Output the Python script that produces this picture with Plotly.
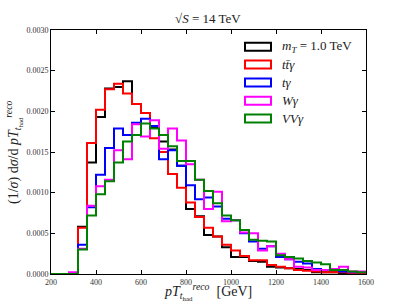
import plotly.graph_objects as go

bin_edges = list(range(200, 1601, 40))

sig_mT1 = [0, 0, 0, 0.00058, 0.00137, 0.00193, 0.00228, 0.00230, 0.00237, 0.00209, 0.00198, 0.00180,
           0.00163, 0.00153, 0.00133, 0.00080, 0.00071, 0.00048, 0.00046, 0.00033, 0.00021, 0.00021,
           0.00016, 0.00015, 0.00009, 0.00008, 0.00007, 0.00006, 0.00005, 0.00002, 0.00002, 0.00002,
           0.00001, 0.00001, 0.00001]
ttgamma = [0, 0, 0, 0.00057, 0.00161, 0.00202, 0.00227, 0.00234, 0.00222, 0.00209, 0.00198, 0.00167,
           0.00150, 0.00123, 0.00106, 0.00088, 0.00070, 0.00057, 0.00046, 0.00036, 0.00029, 0.00022,
           0.00017, 0.00017, 0.00011, 0.00009, 0.00007, 0.00005, 0.00004, 0.00003, 0.00002, 0.00002,
           0.00002, 0.00001, 0.00001]
tgamma = [0, 0, 0, 0.00036, 0.00082, 0.00122, 0.00155, 0.00179, 0.00171, 0.00186, 0.00191, 0.00182,
          0.00141, 0.00152, 0.00133, 0.00109, 0.00092, 0.00094, 0.00083, 0.00068, 0.00066, 0.00050,
          0.00040, 0.00031, 0.00034, 0.00021, 0.00018, 0.00015, 0.00013, 0.00006, 0.00005, 0.00005,
          0.00003, 0.00002, 0.00002]
wgamma = [0, 0, 0.00002, 0.00031, 0.00084, 0.00108, 0.00116, 0.00152, 0.00141, 0.00184, 0.00169, 0.00189,
          0.00154, 0.00179, 0.00164, 0.00135, 0.00116, 0.00080, 0.00101, 0.00065, 0.00066, 0.00051,
          0.00050, 0.00029, 0.00034, 0.00025, 0.00018, 0.00009, 0.00008, 0.00005, 0.00005, 0.00006,
          0.00009, 0.00003, 0.00003]
vvgamma = [0, 0, 0, 0.00030, 0.00072, 0.00098, 0.00114, 0.00137, 0.00163, 0.00171, 0.00185, 0.00179,
           0.00171, 0.00157, 0.00139, 0.00139, 0.00116, 0.00102, 0.00087, 0.00072, 0.00066, 0.00054,
           0.00042, 0.00041, 0.00040, 0.00023, 0.00021, 0.00019, 0.00016, 0.00014, 0.00012, 0.00005,
           0.00005, 0.00003, 0.00002]

series_names = ["<i>m</i><sub><i>T</i></sub> = 1.0 TeV", "<i>tt\u0304γ</i>", "<i>tγ</i>", "<i>Wγ</i>", "<i>VVγ</i>"]
series_values = [sig_mT1, ttgamma, tgamma, wgamma, vvgamma]
series_colors = ["#000000", "#ff0000", "#0000ff", "#ff00ff", "#008000"]

x_ticks = [200, 400, 600, 800, 1000, 1200, 1400, 1600]
y_ticks = [0.0000, 0.0005, 0.0010, 0.0015, 0.0020, 0.0025, 0.0030]

FONT = "Liberation Serif"
W, H = 407, 305
ML, MR, MT, MB = 51, 41, 30, 31
PW, PH = W - ML - MR, H - MT - MB

fig = go.Figure()
for name, vals, col in zip(series_names, series_values, series_colors):
    fig.add_trace(go.Scatter(
        x=bin_edges, y=list(vals) + [vals[-1]], mode="lines", name=name,
        line=dict(color=col, width=2, shape="hv"), showlegend=False,
    ))

def px2paper(x, y):
    return (x - ML) / PW, (H - MB - y) / PH

# manual legend (patch style boxes)
row_y = [46.7, 64.5, 82.5, 100.8, 118.5]
for name, col, ry in zip(series_names, series_colors, row_y):
    x0, y0 = px2paper(245, ry - 4)
    x1, y1 = px2paper(271, ry + 4)
    fig.add_shape(type="rect", xref="paper", yref="paper", x0=x0, x1=x1, y0=y1, y1=y0,
                  line=dict(color=col, width=2), fillcolor="rgba(0,0,0,0)")
    tx, ty = px2paper(280, ry)
    fig.add_annotation(xref="paper", yref="paper", x=tx, y=ty, text=name, showarrow=False,
                       xanchor="left", yanchor="middle", font=dict(family=FONT, size=13, color="#222"))

# titles
tx, ty = px2paper(208, 19)
fig.add_annotation(xref="paper", yref="paper", x=tx, y=ty, text="√<i>S</i> = 14 TeV", showarrow=False,
                   xanchor="center", yanchor="middle", font=dict(family=FONT, size=13, color="#222"))
tx, ty = px2paper(208, 291)
fig.add_annotation(xref="paper", yref="paper", x=tx, y=ty,
                   text="<i>pT</i><sub><i>t</i><sub>had</sub></sub><sup><i>reco</i></sup>\u2002[GeV]",
                   showarrow=False, xanchor="center", yanchor="middle",
                   font=dict(family=FONT, size=14, color="#222"))
tx, ty = px2paper(13, 152)
fig.add_annotation(xref="paper", yref="paper", x=tx, y=ty,
                   text="(1/<i>σ</i>) d<i>σ</i>/d <i>pT</i><sub><i>t</i><sub>had</sub></sub><sup><i>reco</i></sup>",
                   showarrow=False, xanchor="center", yanchor="middle", textangle=-90,
                   font=dict(family=FONT, size=14, color="#222"))

axis_common = dict(showgrid=False, zeroline=False, showline=True, linecolor="#000", linewidth=1,
                   mirror="allticks", ticks="inside", ticklen=4, tickcolor="#000", tickwidth=0.8,
                   tickfont=dict(family=FONT, size=8, color="#333"))
fig.update_xaxes(range=[200, 1600], tickvals=x_ticks, ticktext=[str(v) for v in x_ticks], **axis_common)
fig.update_yaxes(range=[0, 0.003], tickvals=y_ticks, ticktext=[f"{v:.4f}" for v in y_ticks], **axis_common)

fig.update_layout(width=W, height=H, margin=dict(l=ML, r=MR, t=MT, b=MB, autoexpand=False),
                  paper_bgcolor="white", plot_bgcolor="white", showlegend=False)

fig.write_html("out.html", config={"displayModeBar": False},
               post_script="document.body.style.margin='0';document.body.style.padding='0';")
